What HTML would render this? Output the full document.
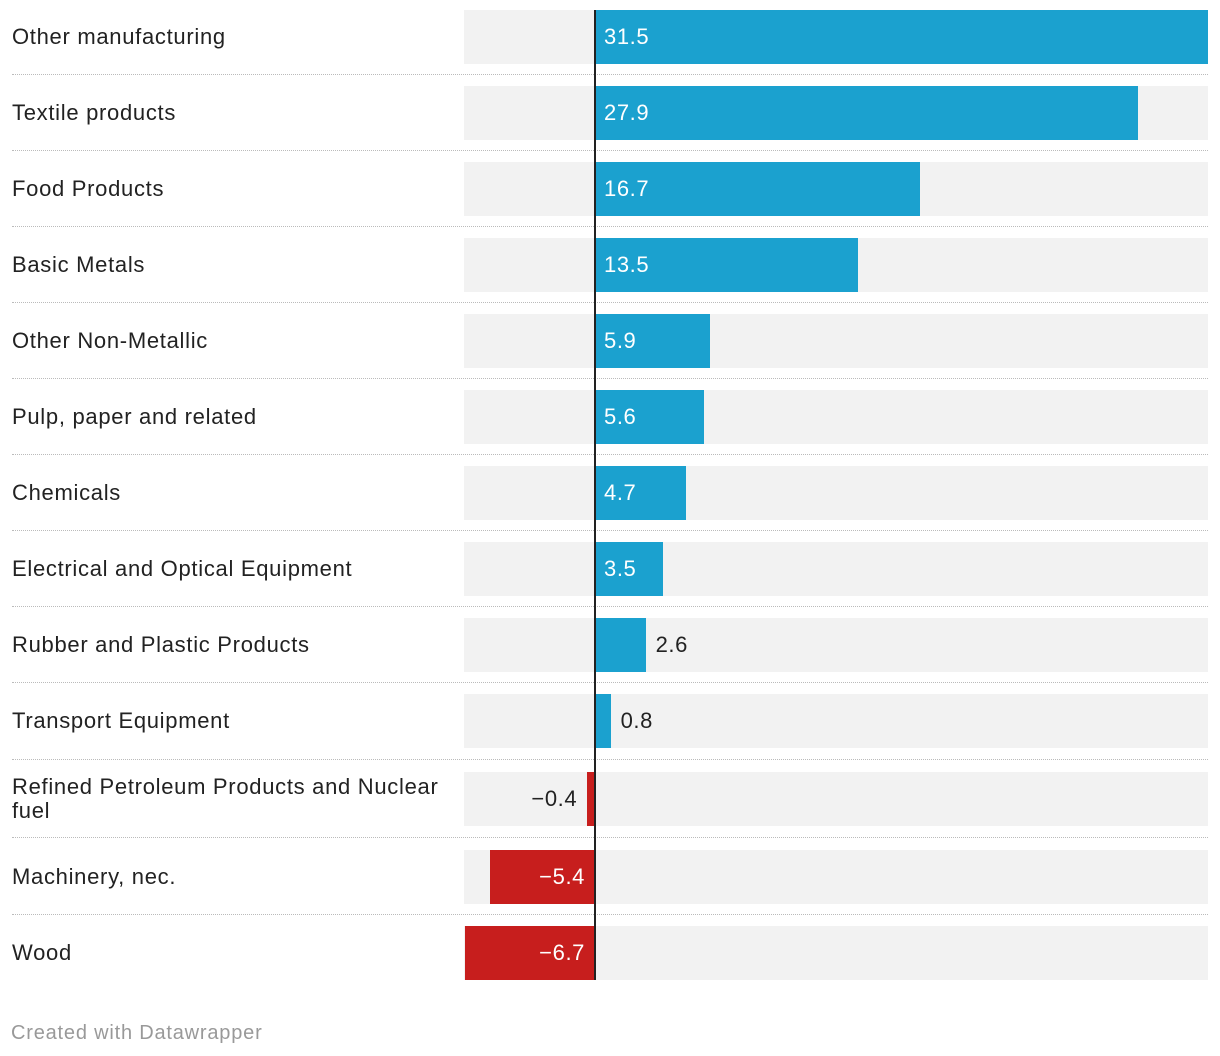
<!DOCTYPE html>
<html><head><meta charset="utf-8"><style>
body{margin:0;width:1220px;height:1056px;background:#fff;font-family:"Liberation Sans",sans-serif;position:relative;overflow:hidden}
.lbl{position:absolute;left:12px;width:445px;font-size:22px;letter-spacing:0.7px;color:#222;line-height:24px;display:flex;align-items:center}
.bg{position:absolute;left:464px;width:744px;background:#f2f2f2}
.bar{position:absolute}
.val{position:absolute;font-size:22px;letter-spacing:0.6px;line-height:54px}
.sep{position:absolute;left:12px;width:1196px;border-top:1px dotted #bbb}
#zero{position:absolute;left:594px;width:2px;top:10px;height:970px;background:#222}
#foot{position:absolute;left:11px;top:1022px;font-size:20px;letter-spacing:0.8px;color:#999}
</style></head><body>
<div id="chart"></div>
<div id="zero"></div>
<div id="foot">Created with Datawrapper</div>
<script>
const categories=["Other manufacturing","Textile products","Food Products","Basic Metals","Other Non-Metallic","Pulp, paper and related","Chemicals","Electrical and Optical Equipment","Rubber and Plastic Products","Transport Equipment","Refined Petroleum Products and Nuclear fuel","Machinery, nec.","Wood"];
const values=[31.5,27.9,16.7,13.5,5.9,5.6,4.7,3.5,2.6,0.8,-0.4,-5.4,-6.7];
const labels=["31.5","27.9","16.7","13.5","5.9","5.6","4.7","3.5","2.6","0.8","−0.4","−5.4","−6.7"];
const x0=595,scale=(1208-595)/31.5;
function xs(v){return x0+v*scale;}
const chart=document.getElementById('chart');
categories.forEach((c,i)=>{
  const top=10+76*i+(i>=11?4:(i>=10?2:0)),h=54;
  const l=document.createElement('div');l.className='lbl';
  
  
  l.style.top=top+'px';l.style.height=h+'px';l.textContent=c;chart.appendChild(l);
  const bg=document.createElement('div');bg.className='bg';
  
  
  bg.style.top=top+'px';bg.style.height=h+'px';chart.appendChild(bg);
  const v=values[i];const b=document.createElement('div');b.className='bar';
  
  
  const a=Math.min(xs(0),xs(v)),w=Math.abs(xs(v)-xs(0));
  b.style.left=a+'px';b.style.width=w+'px';b.style.top=top+'px';b.style.height=h+'px';
  b.style.background=v>=0?'#1ba1cf':'#c71e1d';chart.appendChild(b);
  const t=document.createElement('div');t.className='val';
  
  
  t.style.top=top+'px';t.textContent=labels[i];
  const inside=w>60;
  if(v>=0){t.style.left=(inside?x0+9:xs(v)+10)+'px';t.style.color=inside?'#fff':'#222';}
  else{t.style.right=(1220-(inside?x0-10:xs(v)-10))+'px';t.style.color=inside?'#fff':'#222';}
  chart.appendChild(t);
  if(i<categories.length-1){const s=document.createElement('div');s.className='sep';
  
  
  s.style.top=(top+64+(i===9||i===10?1:0))+'px';chart.appendChild(s);}
});
</script>
</body></html>
